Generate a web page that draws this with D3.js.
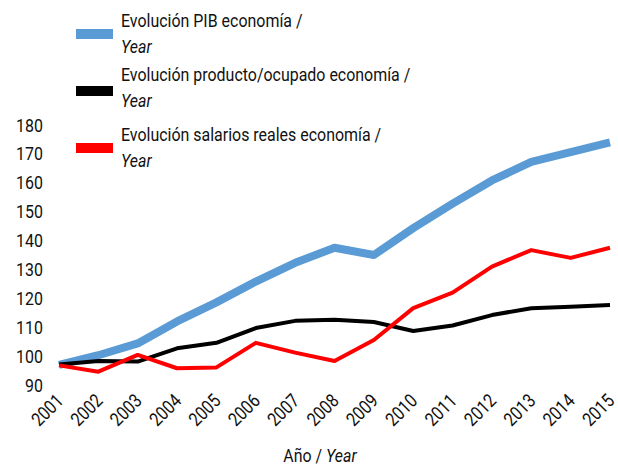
<!DOCTYPE html>
<html>
<head>
<meta charset="utf-8">
<script src="https://cdnjs.cloudflare.com/ajax/libs/d3/7.8.5/d3.min.js"></script>
<style>
  body { margin: 0; background: #fff; }
  text { font-family: Roboto, "DejaVu Sans", sans-serif; font-weight: 400; fill: #111; }
</style>
</head>
<body>
<svg width="618" height="466"></svg>
<script>
var years = [2001, 2002, 2003, 2004, 2005, 2006, 2007, 2008, 2009, 2010, 2011, 2012, 2013, 2014, 2015];
var pib = [97, 100.3, 104.4, 112, 118.6, 125.8, 132.3, 137.5, 135, 144.3, 152.8, 160.8, 167.2, 170.6, 174];
var producto = [97.1, 98.3, 98.1, 102.7, 104.6, 109.7, 112.2, 112.6, 111.8, 108.7, 110.6, 114.2, 116.6, 117.1, 117.7];
var salarios = [96.8, 94.6, 100.4, 95.8, 96.1, 104.6, 101.2, 98.3, 105.6, 116.6, 122, 131, 136.7, 134, 137.5];
var yTicks = [90, 100, 110, 120, 130, 140, 150, 160, 170, 180];

var series = [
  { name: "Evolución PIB economía /", values: pib, color: "#5b9bd5", width: 8 },
  { name: "Evolución producto/ocupado economía /", values: producto, color: "#000000", width: 4 },
  { name: "Evolución salarios reales economía /", values: salarios, color: "#ff0000", width: 4 }
];

// no condensed font installed, so squeeze text horizontally
var squeeze = "scale(0.84,1)";
var fs = "19px";

var svg = d3.select("svg");

var x = d3.scaleLinear().domain([2001, 2015]).range([59, 610]);
var y = d3.scaleLinear().domain([90, 180]).range([385, 125]);

// y labels only
var yAxis = svg.append("g")
  .attr("transform", "translate(43,0)")
  .call(d3.axisLeft(y).tickValues(yTicks).tickSize(0).tickPadding(0));
yAxis.select(".domain").remove();
yAxis.selectAll("text")
  .style("font-size", fs)
  .attr("font-family", null)
  .attr("transform", squeeze);

// x labels, rotated
var xAxis = svg.append("g")
  .attr("transform", "translate(0,392)")
  .call(d3.axisBottom(x).tickValues(years).tickFormat(d3.format("d")).tickSize(0));
xAxis.select(".domain").remove();
xAxis.selectAll("text")
  .style("font-size", fs)
  .attr("font-family", null)
  .attr("text-anchor", "end")
  .attr("x", 0).attr("y", 0).attr("dy", 0)
  .attr("transform", "translate(5,10) rotate(-45) " + squeeze);

var line = d3.line()
  .x(function(d, i) { return x(years[i]); })
  .y(function(d) { return y(d); });

series.forEach(function(s) {
  svg.append("path")
    .datum(s.values)
    .attr("d", line)
    .attr("fill", "none")
    .attr("stroke", s.color)
    .attr("stroke-width", s.width)
    .attr("stroke-linejoin", "round");
});

// legend
var legendY = [34, 91, 148];
var textY = [27, 81, 141];
series.forEach(function(s, i) {
  svg.append("line")
    .attr("x1", 76).attr("x2", 113)
    .attr("y1", legendY[i]).attr("y2", legendY[i])
    .attr("stroke", s.color)
    .attr("stroke-width", 10);
  var g = svg.append("g").attr("transform", "translate(121," + textY[i] + ") " + squeeze);
  g.append("text")
    .style("font-size", fs)
    .text(s.name);
  g.append("text")
    .attr("y", 26)
    .style("font-size", fs)
    .style("font-style", "italic")
    .text("Year");
});

// x title
var title = svg.append("text")
  .attr("transform", "translate(320,462) " + squeeze)
  .attr("text-anchor", "middle")
  .style("font-size", fs);
title.append("tspan").text("Año / ");
title.append("tspan").style("font-style", "italic").text("Year");
</script>
</body>
</html>
